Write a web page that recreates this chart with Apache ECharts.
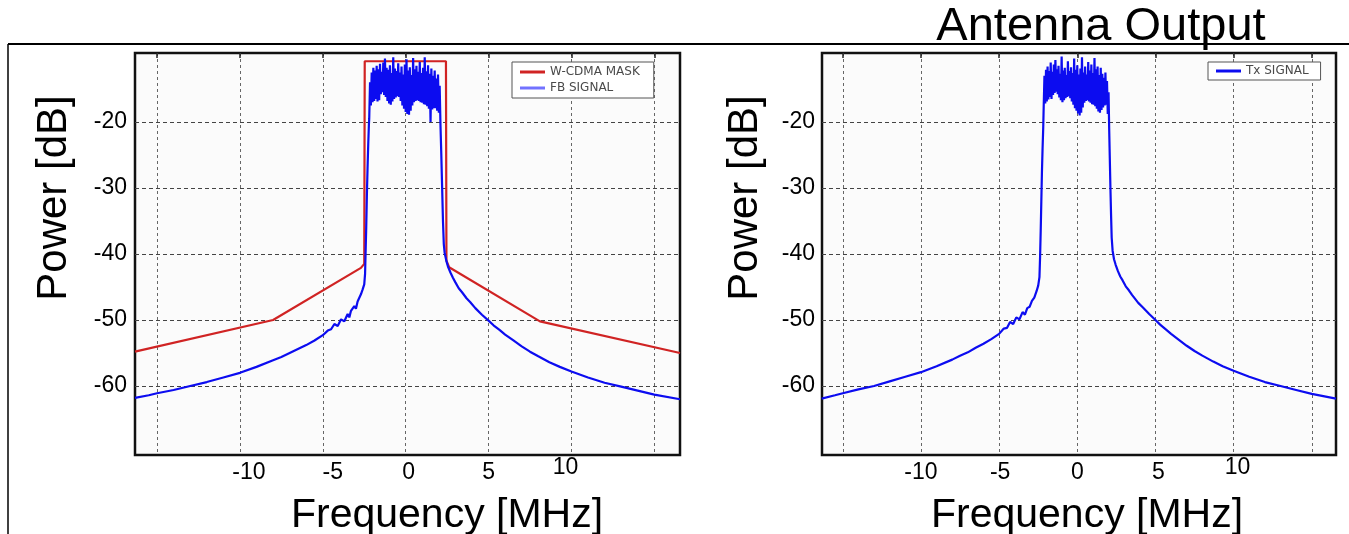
<!DOCTYPE html>
<html><head><meta charset="utf-8">
<script src="https://cdn.jsdelivr.net/npm/echarts@6/dist/echarts.min.js"></script>
<style>html,body{margin:0;padding:0;background:#fff}#c{width:1349px;height:534px}</style>
</head><body><div id="c"></div>
<script>
// ---- data ----
const freqGridTicks = [-15, -10, -5, 0, 5, 10, 15];
const freqTickLabels = [-10, -5, 0, 5, 10];
const powerTicks = [-60, -50, -40, -30, -20];

// W-CDMA spectrum mask (left panel)
const wcdmaMask = [
  [-16.33, -54.8], [-8.0, -50.0], [-2.7, -42.1], [-2.5, -41.5], [-2.47, -10.8],
  [2.43, -10.8], [2.46, -41.0], [2.62, -42.0], [8.1, -50.2], [16.55, -55.0]
];

// FB signal (left panel)
const fbSignal = [
  [-16.33,-61.8],[-15.5,-61.4],[-15,-61.1],[-14,-60.6],[-13,-60.0],[-12,-59.4],[-11,-58.7],[-10,-58.0],
  [-9,-57.1],[-8,-56.1],[-7.5,-55.6],[-7,-55.0],[-6.5,-54.4],[-6,-53.8],[-5.5,-53.1],[-5,-52.3],
  [-4.7,-51.6],[-4.5,-51.4],[-4.3,-50.6],[-4.1,-50.9],[-3.9,-49.9],[-3.7,-50.2],[-3.5,-49.1],[-3.4,-49.6],
  [-3.3,-48.6],[-3.2,-48.9],[-3.1,-47.9],[-3.0,-48.3],[-2.9,-47.2],[-2.8,-47.0],[-2.7,-46.1],[-2.6,-45.4],
  [-2.5,-44.6],[-2.45,-43.0],[-2.42,-40.0],[-2.38,-36.0],[-2.34,-31.0],[-2.3,-27.0],[-2.26,-23.5],[-2.22,-20.5],
  [-2.20,-19.5],[-2.15,-14.0],[-2.10,-17.5],[-2.05,-12.5],[-2.00,-17.0],[-1.95,-11.8],[-1.90,-16.8],[-1.85,-12.2],
  [-1.80,-16.5],[-1.75,-11.5],[-1.70,-16.9],[-1.65,-12.0],[-1.60,-16.7],[-1.55,-11.2],[-1.50,-15.8],[-1.45,-12.4],
  [-1.40,-15.5],[-1.35,-11.0],[-1.30,-15.9],[-1.25,-10.4],[-1.20,-16.2],[-1.15,-11.8],[-1.10,-16.8],[-1.05,-12.1],
  [-1.00,-17.2],[-0.95,-11.4],[-0.90,-17.4],[-0.85,-12.6],[-0.80,-16.9],[-0.75,-10.2],[-0.70,-16.5],[-0.65,-11.9],
  [-0.60,-16.3],[-0.55,-12.3],[-0.50,-16.1],[-0.45,-11.1],[-0.40,-16.2],[-0.35,-12.5],[-0.30,-16.8],[-0.25,-11.6],
  [-0.20,-17.5],[-0.15,-12.8],[-0.10,-18.0],[-0.05,-11.3],[0.00,-18.5],[0.05,-10.5],[0.10,-18.8],[0.15,-12.2],
  [0.20,-18.9],[0.25,-11.7],[0.30,-18.3],[0.35,-12.9],[0.40,-17.5],[0.45,-10.3],[0.50,-17.0],[0.55,-12.0],
  [0.60,-16.8],[0.65,-11.5],[0.70,-16.7],[0.75,-12.4],[0.80,-16.8],[0.85,-10.9],[0.90,-17.0],[0.95,-12.6],
  [1.00,-17.1],[1.05,-11.8],[1.10,-17.3],[1.15,-10.2],[1.20,-17.4],[1.25,-12.3],[1.30,-17.6],[1.35,-11.4],
  [1.40,-18.0],[1.45,-12.7],[1.50,-20.0],[1.55,-11.9],[1.60,-18.1],[1.65,-13.0],[1.70,-17.9],[1.75,-12.2],
  [1.80,-17.9],[1.85,-13.4],[1.90,-18.3],[1.95,-12.8],[2.00,-18.6],[2.05,-14.5],[2.10,-20.5],
  [2.15,-25.0],[2.2,-30.0],[2.25,-35.0],[2.3,-38.5],[2.35,-39.8],[2.45,-41.0],[2.55,-41.9],[2.7,-42.8],
  [2.85,-43.6],[3.0,-44.3],[3.2,-45.2],[3.4,-45.8],[3.67,-46.7],[3.9,-47.3],[4.2,-48.2],[4.6,-49.2],
  [5.0,-50.1],[5.3,-50.8],[5.66,-51.5],[6.0,-52.2],[6.5,-53.1],[7.0,-54.0],[7.5,-54.8],[8.0,-55.5],
  [8.67,-56.4],[9.3,-57.1],[10,-57.8],[11,-58.7],[12,-59.5],[13,-60.1],[14,-60.7],[15,-61.3],[16.55,-62.0]
];

// Tx signal (right panel)
const txSignal = [
  [-16.35,-61.9],[-15.5,-61.4],[-15,-61.1],[-14,-60.5],[-13,-60.0],[-12,-59.3],[-11,-58.6],[-10,-57.9],
  [-9,-57.0],[-8,-56.0],[-7.5,-55.4],[-7,-54.9],[-6.5,-54.2],[-6,-53.6],[-5.5,-52.9],[-5,-52.1],
  [-4.7,-51.3],[-4.5,-51.2],[-4.3,-50.3],[-4.1,-50.6],[-3.9,-49.6],[-3.7,-49.9],[-3.5,-48.8],[-3.35,-49.2],
  [-3.2,-48.2],[-3.05,-48.0],[-2.9,-47.1],[-2.75,-46.6],[-2.6,-45.6],[-2.5,-44.8],[-2.42,-43.5],[-2.38,-40.5],
  [-2.34,-36.5],[-2.3,-32.0],[-2.26,-27.5],[-2.22,-24.0],[-2.18,-21.0],
  [-2.15,-17.8],[-2.10,-13.0],[-2.05,-17.2],[-2.00,-12.1],[-1.95,-16.9],[-1.90,-11.6],[-1.85,-16.6],[-1.80,-12.3],
  [-1.75,-16.2],[-1.70,-11.0],[-1.65,-16.5],[-1.60,-12.4],[-1.55,-15.9],[-1.50,-11.3],[-1.45,-15.6],[-1.40,-10.6],
  [-1.35,-15.4],[-1.30,-12.0],[-1.25,-15.8],[-1.20,-11.5],[-1.15,-16.3],[-1.10,-12.7],[-1.05,-16.7],[-1.00,-10.1],
  [-0.95,-17.0],[-0.90,-12.2],[-0.85,-16.7],[-0.80,-11.8],[-0.75,-16.4],[-0.70,-12.9],[-0.65,-16.2],[-0.60,-10.8],
  [-0.55,-16.1],[-0.50,-12.3],[-0.45,-16.4],[-0.40,-11.7],[-0.35,-16.9],[-0.30,-12.6],[-0.25,-17.4],[-0.20,-10.4],
  [-0.15,-17.9],[-0.10,-12.1],[-0.05,-18.3],[0.00,-11.4],[0.05,-18.7],[0.10,-12.8],[0.15,-19.0],[0.20,-11.9],
  [0.25,-18.6],[0.30,-10.2],[0.35,-17.8],[0.40,-12.5],[0.45,-17.1],[0.50,-11.6],[0.55,-16.8],[0.60,-12.8],
  [0.65,-16.7],[0.70,-10.9],[0.75,-16.9],[0.80,-12.2],[0.85,-17.1],[0.90,-11.3],[0.95,-17.3],[1.00,-12.6],
  [1.05,-17.4],[1.10,-10.3],[1.15,-17.6],[1.20,-12.0],[1.25,-18.0],[1.30,-11.6],[1.35,-18.4],[1.40,-12.9],
  [1.45,-18.6],[1.50,-11.8],[1.55,-18.2],[1.60,-12.7],[1.65,-17.8],[1.70,-13.3],[1.75,-17.5],[1.80,-12.5],
  [1.85,-17.4],[1.90,-13.8],[1.95,-18.8],[2.00,-15.5],
  [2.04,-21.0],[2.08,-25.5],[2.12,-30.0],[2.16,-34.0],[2.2,-37.5],[2.26,-39.5],[2.35,-40.8],[2.45,-41.6],
  [2.6,-42.6],[2.75,-43.4],[2.9,-44.0],[3.1,-44.9],[3.3,-45.5],[3.5,-46.2],[3.7,-46.8],[3.9,-47.4],
  [4.2,-48.1],[4.6,-49.1],[5.0,-50.0],[5.3,-50.7],[5.7,-51.5],[6.0,-52.1],[6.5,-53.0],[7.0,-53.9],
  [7.5,-54.7],[8.0,-55.4],[8.7,-56.3],[9.3,-57.0],[10,-57.7],[11,-58.6],[12,-59.4],[13,-60.0],
  [14,-60.6],[15,-61.2],[16.55,-61.9]
];

// ---- styling ----
const FONT = "'Liberation Sans', Arial, sans-serif";
const RED = '#d02323';
const BLUE = '#0c0cf0';

// per-label nudges (px): [dx, dy] as in the slide
const leftLabelNudge = { '-10': [9, 0], '-5': [10, 0], '0': [3, 0], '5': [0, 0], '10': [-6, -5] };
const rightLabelNudge = { '-10': [0, 0], '-5': [1, 0], '0': [0, 0], '5': [3, 0], '10': [4, -5] };

function makeRich(nudge) {
  const rich = {};
  Object.keys(nudge).forEach((k, i) => {
    const [dx, dy] = nudge[k];
    rich['l' + i] = {
      fontSize: 23, fontFamily: FONT, color: '#000',
      padding: [6 + dy, dx < 0 ? -2 * dx : 0, 0, dx > 0 ? 2 * dx : 0]
    };
  });
  return rich;
}
function makeFormatter(nudge) {
  const keys = Object.keys(nudge);
  return v => {
    const i = keys.indexOf(String(v));
    return i < 0 ? String(v) : '{l' + i + '|' + v + '}';
  };
}

function xAxisFor(grid, nudge) {
  return {
    type: 'value', gridIndex: grid, min: -16.33, max: 16.55,
    axisLine: { show: false },
    axisTick: { show: false, customValues: freqGridTicks },
    splitLine: { show: true, lineStyle: { color: '#666', type: [3, 3], width: 1 } },
    axisLabel: { customValues: freqTickLabels, margin: 0, formatter: makeFormatter(nudge), rich: makeRich(nudge) }
  };
}
function topAxisFor(grid) {
  return {
    type: 'value', gridIndex: grid, min: -16.33, max: 16.55, position: 'top',
    axisLine: { show: false },
    axisTick: { show: true, inside: true, length: 5, customValues: freqGridTicks, lineStyle: { color: '#222', width: 1.5 } },
    splitLine: { show: false }, axisLabel: { show: false }
  };
}
function yAxisFor(grid, margin) {
  return {
    type: 'value', gridIndex: grid, min: -70.45, max: -9.55,
    axisLine: { show: false },
    axisTick: { show: false, customValues: powerTicks },
    splitLine: { show: true, lineStyle: { color: '#444', type: [4, 3], width: 1 } },
    axisLabel: { customValues: powerTicks, margin: margin, fontSize: 23, fontFamily: FONT, color: '#000' }
  };
}

const legendText = { fontFamily: "'DejaVu Sans', sans-serif", fontSize: 12, color: '#4a4a4a' };

const chart = echarts.init(document.getElementById('c'), null, { renderer: 'canvas' });
chart.setOption({
  animation: false,
  backgroundColor: '#fff',
  grid: [
    { left: 135, top: 53, width: 545, height: 402, show: true, borderColor: '#111', borderWidth: 2.5, backgroundColor: '#fbfbfb' },
    { left: 822, top: 53, width: 514, height: 402, show: true, borderColor: '#111', borderWidth: 2.5, backgroundColor: '#fbfbfb' }
  ],
  xAxis: [xAxisFor(0, leftLabelNudge), xAxisFor(1, rightLabelNudge), topAxisFor(0), topAxisFor(1)],
  yAxis: [yAxisFor(0, 8), yAxisFor(1, 7)],
  legend: [
    {
      data: [{ name: 'W-CDMA MASK', itemStyle: { color: RED } }, { name: 'FB SIGNAL', itemStyle: { color: '#7272ff' } }],
      left: 512, top: 62, orient: 'vertical', icon: 'rect', itemWidth: 25, itemHeight: 3, itemGap: 4,
      padding: [4, 14, 4, 8], borderColor: '#555', borderWidth: 1, backgroundColor: '#fff', selectedMode: false,
      textStyle: legendText
    },
    {
      data: [{ name: 'Tx SIGNAL', itemStyle: { color: BLUE } }],
      left: 1208, top: 62, orient: 'vertical', icon: 'rect', itemWidth: 25, itemHeight: 3,
      padding: [3, 12, 3, 8], borderColor: '#555', borderWidth: 1, backgroundColor: '#fff', selectedMode: false,
      textStyle: legendText
    }
  ],
  series: [
    { name: 'W-CDMA MASK', type: 'line', xAxisIndex: 0, yAxisIndex: 0, data: wcdmaMask, symbol: 'none',
      lineStyle: { color: RED, width: 2.2 }, itemStyle: { color: RED }, z: 2 },
    { name: 'FB SIGNAL', type: 'line', xAxisIndex: 0, yAxisIndex: 0, data: fbSignal, symbol: 'none',
      lineStyle: { color: BLUE, width: 2.2 }, itemStyle: { color: BLUE }, z: 3 },
    { name: 'Tx SIGNAL', type: 'line', xAxisIndex: 1, yAxisIndex: 1, data: txSignal, symbol: 'none',
      lineStyle: { color: BLUE, width: 2.2 }, itemStyle: { color: BLUE }, z: 3 }
  ],
  graphic: [
    { type: 'line', shape: { x1: 8, y1: 44, x2: 1349, y2: 44 }, style: { stroke: '#000', lineWidth: 2 }, z: 10 },
    { type: 'line', shape: { x1: 8, y1: 44, x2: 8, y2: 534 }, style: { stroke: '#000', lineWidth: 1.5 }, z: 10 },
    { type: 'text', x: 1101, y: 27, style: { text: 'Antenna Output', font: '47px ' + FONT, fill: '#000', textAlign: 'center', textVerticalAlign: 'middle' }, z: 9 },
    { type: 'text', x: 54, y: 198, rotation: Math.PI / 2, style: { text: 'Power [dB]', font: '42px ' + FONT, fill: '#000', textAlign: 'center', textVerticalAlign: 'middle' } },
    { type: 'text', x: 745, y: 198, rotation: Math.PI / 2, style: { text: 'Power [dB]', font: '42px ' + FONT, fill: '#000', textAlign: 'center', textVerticalAlign: 'middle' } },
    { type: 'text', x: 447, y: 516, style: { text: 'Frequency [MHz]', font: '41px ' + FONT, fill: '#000', textAlign: 'center', textVerticalAlign: 'middle' } },
    { type: 'text', x: 1087, y: 516, style: { text: 'Frequency [MHz]', font: '41px ' + FONT, fill: '#000', textAlign: 'center', textVerticalAlign: 'middle' } }
  ]
});
</script></body></html>
